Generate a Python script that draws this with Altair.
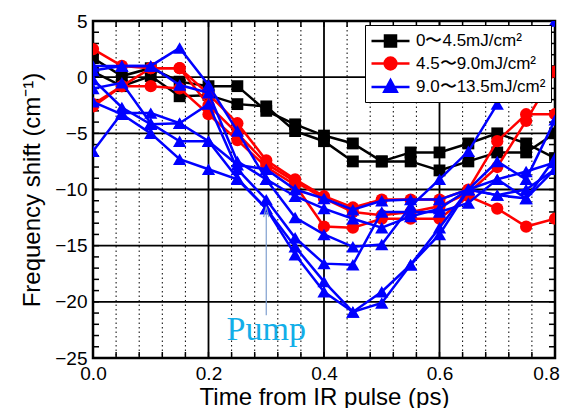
import altair as alt
import pandas as pd

# ---------------- data ----------------
t = [0.0, 0.05, 0.1, 0.15, 0.2, 0.25, 0.3, 0.35, 0.4, 0.45, 0.5, 0.55, 0.6, 0.65, 0.7, 0.75, 0.8]

groups = ["0〜4.5mJ/cm²", "4.5〜9.0mJ/cm²", "9.0〜13.5mJ/cm²"]

black_1 = [1.7, 0.1, 0.8, -0.4, -0.8, -0.8, -3.0, -4.2, -5.2, -5.9, -7.5, -6.7, -6.7, -5.9, -5.0, -5.9, -7.2]
black_2 = [0.5, -0.8, 0.1, -1.7, -1.6, -2.4, -2.6, -4.8, -5.7, -7.5, -7.5, -7.5, -8.3, -7.5, -6.7, -6.7, -5.0]

red_1 = [2.5, 1.0, 0.8, 0.8, -1.5, -4.1, -7.4, -9.1, -10.6, -11.6, -10.9, -10.9, -10.9, -10.0, -5.7, -3.3, -3.3]
red_2 = [-2.6, -0.8, -0.8, -1.0, -3.3, -5.6, -8.0, -9.6, -13.3, -13.4, -12.6, -12.6, -12.6, -10.6, -11.7, -13.3, -12.6]
red_3 = [-2.4, -0.8, 0.8, 0.8, -2.5, -5.0, -7.7, -9.3, -10.8, -12.0, -12.3, -12.0, -11.5, -10.3, -8.0, -3.9, 0.5]

blue_1 = [0.6, 1.0, 1.0, 2.6, -0.7, -4.8, -9.1, -10.6, -11.7, -12.6, -13.4, -12.4, -11.7, -10.0, -10.5, -10.8, -8.2]
blue_2 = [1.0, 1.0, 1.0, -0.7, -1.4, -7.5, -9.1, -12.5, -14.0, -15.1, -14.9, -11.5, -9.1, -6.6, -2.4, 1.5, 5.0]
blue_3 = [-6.6, -3.2, -3.2, -4.1, -2.4, -8.2, -10.9, -14.3, -16.6, -16.7, -12.0, -12.0, -12.0, -11.2, -9.1, -8.4, -7.6]
blue_4 = [-0.2, -2.7, -4.2, -4.1, -5.7, -9.0, -11.7, -15.1, -18.2, -20.9, -19.1, -16.7, -14.0, -10.0, -7.5, -9.1, -3.8]
blue_5 = [-2.2, -3.3, -5.0, -7.3, -8.2, -9.1, -11.7, -15.8, -19.1, -20.9, -20.1, -16.7, -13.4, -10.0, -10.5, -10.0, -8.2]
blue_6 = [-1.0, -0.5, -4.1, -5.7, -5.7, -7.8, -8.2, -10.0, -10.8, -11.8, -11.0, -10.9, -10.9, -10.0, -9.1, -10.8, -7.2]

series = [
    (groups[0], "k1", black_1), (groups[0], "k2", black_2),
    (groups[1], "r1", red_1), (groups[1], "r2", red_2), (groups[1], "r3", red_3),
    (groups[2], "b1", blue_1), (groups[2], "b2", blue_2), (groups[2], "b3", blue_3),
    (groups[2], "b4", blue_4), (groups[2], "b5", blue_5), (groups[2], "b6", blue_6),
]

colors = ["#000000", "#ff0000", "#0000ff"]
shapes = ["square", "circle", "triangle-up"]
sizes = [140, 150, 175]
# legend symbols: a line through the marker (symbol box spans -1..1, line runs on to x=3)
legend_paths = [
    "M-1,0H3M0.42,-0.58H1.58V0.58H0.42Z",
    "M-1,0H3M1.62,0A0.62,0.62,0,1,1,0.38,0A0.62,0.62,0,1,1,1.62,0Z",
    "M-1,0H3M1,-0.72L1.66,0.5H0.34Z",
]

# grid / tick values
x_labels = [0.0, 0.2, 0.4, 0.6, 0.8]
y_labels = [-25, -20, -15, -10, -5, 0, 5]
x_major_grid = [0.2, 0.4, 0.6]
x_minor_grid = [0.04, 0.08, 0.12, 0.16, 0.24, 0.28, 0.32, 0.36, 0.44, 0.48, 0.52, 0.56, 0.64, 0.68, 0.72, 0.76]
y_major_grid = [0, -5, -10, -15, -20]
x_ticks = [0.04, 0.08, 0.12, 0.16, 0.2, 0.24, 0.28, 0.32, 0.36, 0.4, 0.44, 0.48, 0.52, 0.56, 0.6, 0.64, 0.68, 0.72, 0.76]
y_ticks = list(range(-24, 5))

pump_x = [0.3]
pump_arrow_top = [-12.0]
pump_arrow_bottom = [-21.2]
pump_label_y = [-23.4]

# ---------------- build ----------------
rows = []
for g, sid, vals in series:
    for tt, v in zip(t, vals):
        rows.append({"t": tt, "shift": v, "series": sid, "group": g})
df = pd.DataFrame(rows)

W, H = 462, 337
xs = alt.Scale(domain=[0, 0.8], nice=False, zero=False)
ys = alt.Scale(domain=[-25, 5], nice=False, zero=False)
FONT = "Liberation Sans"

X = alt.X("t:Q", scale=xs, axis=alt.Axis(
    values=x_labels, format=".1f", title="Time from IR pulse (ps)",
    ticks=False, domain=False, grid=False, labelFontSize=19, titleFontSize=24,
    labelPadding=6, titlePadding=2, labelColor="black", titleColor="black", labelFlush=False,
    labelOffset={"condition": {"test": "datum.value > 0.79", "value": -9}, "value": 0},
    titleFontWeight="normal", labelFont=FONT, titleFont=FONT))
Y = alt.Y("shift:Q", scale=ys, axis=alt.Axis(
    values=y_labels, format="d", title="Frequency shift (cm⁻¹)",
    ticks=False, domain=False, grid=False, labelFontSize=19, titleFontSize=24,
    labelPadding=6, titlePadding=10, labelColor="black", titleColor="black", labelFlush=False,
    titleFontWeight="normal", labelFont=FONT, titleFont=FONT))

layers = []

# grid lines
layers.append(alt.Chart(pd.DataFrame({"x": x_minor_grid})).mark_rule(
    color="black", strokeWidth=1, strokeDash=[1.5, 3]).encode(x=alt.X("x:Q", scale=xs)))
layers.append(alt.Chart(pd.DataFrame({"x": x_major_grid})).mark_rule(
    color="black", strokeWidth=1.8).encode(x=alt.X("x:Q", scale=xs)))
layers.append(alt.Chart(pd.DataFrame({"y": y_major_grid})).mark_rule(
    color="black", strokeWidth=1.8).encode(y=alt.Y("y:Q", scale=ys)))

# inward ticks
xt = pd.DataFrame({"x": x_ticks})
layers.append(alt.Chart(xt).mark_rule(color="black", strokeWidth=1.5).encode(
    x=alt.X("x:Q", scale=xs), y=alt.value(H), y2=alt.value(H - 6)))
layers.append(alt.Chart(xt).mark_rule(color="black", strokeWidth=1.5).encode(
    x=alt.X("x:Q", scale=xs), y=alt.value(0), y2=alt.value(6)))
yt = pd.DataFrame({"y": y_ticks})
layers.append(alt.Chart(yt).mark_rule(color="black", strokeWidth=1.5).encode(
    y=alt.Y("y:Q", scale=ys), x=alt.value(0), x2=alt.value(6)))
layers.append(alt.Chart(yt).mark_rule(color="black", strokeWidth=1.5).encode(
    y=alt.Y("y:Q", scale=ys), x=alt.value(W), x2=alt.value(W - 6)))

# data
base = alt.Chart(df)
for g, c, s, sz in zip(groups, colors, shapes, sizes):
    sub = base.transform_filter(alt.datum.group == g)
    layers.append(sub.mark_line(color=c, strokeWidth=2.5, clip=True).encode(
        x=X, y=Y, detail="series:N", order="t:Q"))
    layers.append(sub.mark_point(shape=s, filled=True, color=c, size=sz, opacity=1, clip=True).encode(
        x=X, y=Y))

# pump annotation
pump = pd.DataFrame({"x": pump_x, "y1": pump_arrow_top, "y2": pump_arrow_bottom,
                     "ly": pump_label_y, "label": ["Pump"]})
layers.append(alt.Chart(pump).mark_rule(color="#7f9fcf", strokeWidth=1.2).encode(
    x=alt.X("x:Q", scale=xs), y=alt.Y("y1:Q", scale=ys), y2="y2:Q"))
layers.append(alt.Chart(pump).mark_point(shape="M-0.5,1L0,-1L0.5,1", filled=False, color="#7f9fcf",
                                         strokeWidth=1.2, size=110, opacity=1).encode(
    x=alt.X("x:Q", scale=xs), y=alt.Y("y1:Q", scale=ys)))
layers.append(alt.Chart(pump).mark_text(font="Liberation Serif", fontSize=34, color="#12aee8",
                                        align="center", baseline="alphabetic").encode(
    x=alt.X("x:Q", scale=xs), y=alt.Y("ly:Q", scale=ys), text="label:N"))

# legend layer (marks pushed outside the domain and clipped; only the legend shows)
leg = alt.Legend(title=None, orient="top-right", offset=4, fillColor="white", strokeColor="black",
                 padding=5, labelFontSize=17, labelFont=FONT, labelColor="black",
                 symbolSize=361, symbolStrokeWidth=2.5, symbolOpacity=1, labelOffset=24,
                 rowPadding=0.5)
layers.append(base.transform_calculate(hide="1000").mark_point(
    filled=True, clip=True, size=361, strokeWidth=2.5).encode(
    x=X, y=alt.Y("hide:Q", scale=ys),
    fill=alt.Fill("group:N", scale=alt.Scale(domain=groups, range=colors), legend=leg),
    stroke=alt.Stroke("group:N", scale=alt.Scale(domain=groups, range=colors), legend=leg),
    shape=alt.Shape("group:N", scale=alt.Scale(domain=groups, range=legend_paths), legend=leg)))

chart = alt.layer(*layers).properties(
    width=W, height=H,
    padding={"left": 85, "top": 13, "right": 7, "bottom": 50},
    autosize=alt.AutoSizeParams(type="none"),
    background="white",
).configure_view(stroke="black", strokeWidth=2.5)

chart.save("out.html", embed_options={"renderer": "svg", "actions": False})
